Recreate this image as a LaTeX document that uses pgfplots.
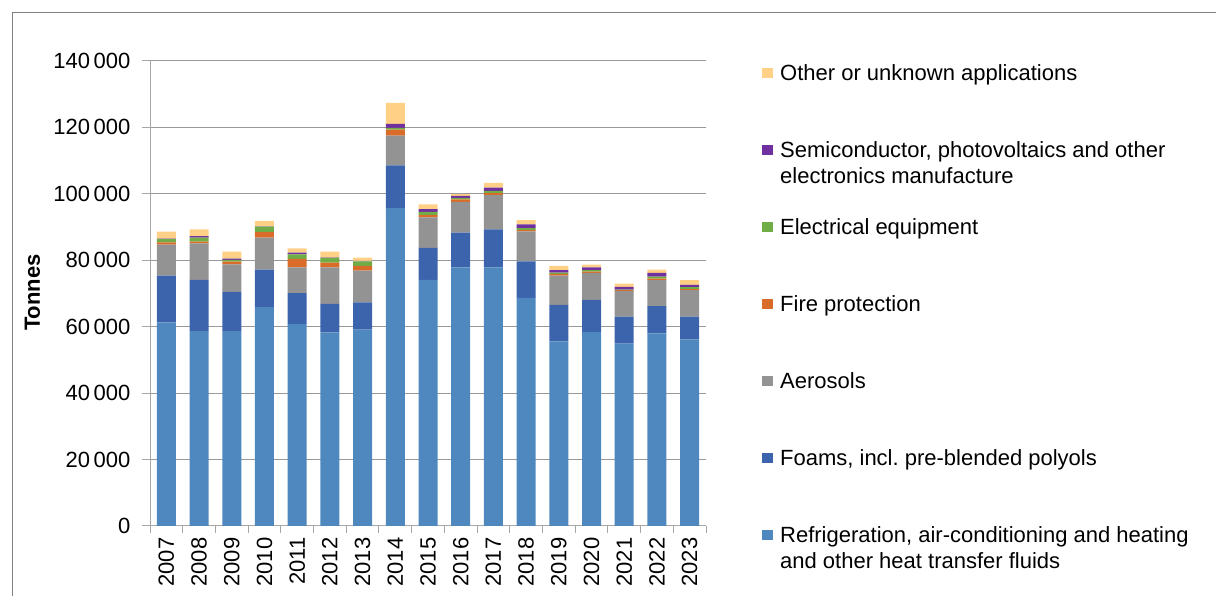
\documentclass[border=0pt]{standalone}
\usepackage{fontspec}
\setmainfont{Liberation Sans}
\usepackage{pgfplots}
\usepackage{pgfplotstable}
\pgfplotsset{compat=1.18}
\definecolor{cRef}{HTML}{4F88BE}
\definecolor{cFoam}{HTML}{3C64AD}
\definecolor{cAero}{HTML}{939393}
\definecolor{cFire}{HTML}{D86C28}
\definecolor{cElec}{HTML}{70AD47}
\definecolor{cSemi}{HTML}{7030A0}
\definecolor{cOther}{HTML}{FFD085}
\pgfplotstableread{
year refrig foam aero fire elec semi other
2007 61300 14100 9300 700 1000 100 2100
2008 58700 15400 11000 500 1200 500 2000
2009 58700 11800 8300 800 500 400 2100
2010 65900 11300 9600 1700 1600 100 1700
2011 60800 9300 7800 2500 1400 500 1300
2012 58300 8600 11000 1400 1400 100 1800
2013 59100 8200 9600 1400 1400 100 1000
2014 95700 12900 8900 1800 600 1200 6300
2015 74100 9600 9200 800 900 800 1400
2016 77900 10400 9300 700 500 600 500
2017 77900 11400 10300 600 700 1000 1400
2018 68700 11000 9000 400 600 1100 1300
2019 55600 11000 8800 500 400 700 1300
2020 58400 9700 8100 400 400 900 800
2021 54900 8100 7800 200 200 800 1000
2022 58000 8200 7800 500 600 1100 1000
2023 56200 6800 8000 300 600 700 1400
}\data
\newcommand{\lent}[1]{\parbox[t]{440pt}{#1}}
\begin{document}
\begin{tikzpicture}[font=\fontsize{22}{26.5}\selectfont]
\useasboundingbox (0,0) rectangle (1216pt,596pt);
\draw[color=black!50, line width=1pt] (12pt,0pt) -- (12pt,583.5pt) -- (1216pt,583.5pt);
\begin{axis}[
  at={(150pt,70pt)}, anchor=south west,
  scale only axis, width=556pt, height=465pt,
  ybar stacked, bar width=19pt,
  xmin=-0.5, xmax=16.5, ymin=0, ymax=140000,
  axis x line*=bottom, axis y line*=left,
  axis line style={draw=black!35, line width=1pt},
  tick align=outside,
  xtick={0,...,16},
  xticklabels={2007,2008,2009,2010,2011,2012,2013,2014,2015,2016,2017,2018,2019,2020,2021,2022,2023},
  minor xtick={-0.5,0.5,...,16.5},
  major x tick style={draw=none},
  minor x tick style={draw=black!35, line width=1pt},
  minor tick length=7pt,
  major tick length=8pt,
  ytick={0,20000,...,140000},
  ytick style={draw=black!35, line width=1pt},
  scaled y ticks=false,
  /pgf/number format/.cd, fixed, 1000 sep={\,}, assume math mode=true, /pgfplots/.cd,
  ymajorgrids, major grid style={draw=black!40, line width=1pt},
  ticklabel style={font=\fontsize{22}{26.5}\selectfont},
  yticklabel style={xshift=-8pt},
  xticklabel style={rotate=90, anchor=east},
  ylabel={\textbf{Tonnes}},
  ylabel style={font=\fontsize{22}{26.5}\selectfont, at={(axis description cs:-0.2113,0.502)}, anchor=center},
  reverse legend,
  legend cell align=left,
  legend style={at={(axis description cs:1.1007,0.9978)}, anchor=north west, draw=none, fill=none,
    inner sep=0pt, row sep=0pt, column sep=0pt, nodes={inner sep=0pt},
    font=\fontsize{22}{26.5}\selectfont},
  legend image code/.code={\path[#1,draw=none] (0pt,-5pt) rectangle (11pt,5pt); \path[draw=none,fill=none] (0pt,11pt) -- (18pt,11pt) -- (18pt,-66pt);},
  every axis plot/.append style={draw=none},
]
\addplot[fill=cRef] table[x expr=\coordindex, y=refrig] {\data};
\addlegendentry{\lent{Refrigeration, air-conditioning and heating\\and other heat transfer fluids}}
\addplot[fill=cFoam] table[x expr=\coordindex, y=foam] {\data};
\addlegendentry{\lent{Foams, incl.\ pre-blended polyols}}
\addplot[fill=cAero] table[x expr=\coordindex, y=aero] {\data};
\addlegendentry{\lent{Aerosols}}
\addplot[fill=cFire] table[x expr=\coordindex, y=fire] {\data};
\addlegendentry{\lent{Fire protection}}
\addplot[fill=cElec] table[x expr=\coordindex, y=elec] {\data};
\addlegendentry{\lent{Electrical equipment}}
\addplot[fill=cSemi] table[x expr=\coordindex, y=semi] {\data};
\addlegendentry{\lent{Semiconductor, photovoltaics and other\\electronics manufacture}}
\addplot[fill=cOther] table[x expr=\coordindex, y=other] {\data};
\addlegendentry{\lent{Other or unknown applications}}
\end{axis}
\end{tikzpicture}
\end{document}
